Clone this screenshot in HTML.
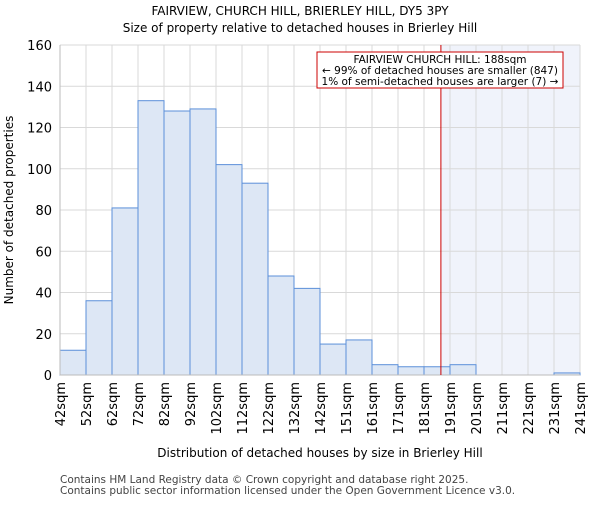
<!DOCTYPE html>
<html><head><meta charset="utf-8"><style>body{margin:0;background:#fff}svg{font-family:"DejaVu Sans","Liberation Sans",sans-serif}</style></head>
<body>
<svg id="c" width="600" height="500" viewBox="0 0 600 500">
<text x="300" y="15" text-anchor="middle" font-size="12">FAIRVIEW, CHURCH HILL, BRIERLEY HILL, DY5 3PY</text>
<text x="300" y="32" text-anchor="middle" font-size="12">Size of property relative to detached houses in Brierley Hill</text>
<g id="grid"></g><g id="bars"></g><g id="axes"></g>
<text transform="translate(13,210) rotate(-90)" text-anchor="middle" font-size="12">Number of detached properties</text>
<text x="320" y="457" text-anchor="middle" font-size="12">Distribution of detached houses by size in Brierley Hill</text>
<text x="60" y="483" font-size="10.5" fill="#444">Contains HM Land Registry data © Crown copyright and database right 2025.</text>
<text x="60" y="494" font-size="10.5" fill="#444">Contains public sector information licensed under the Open Government Licence v3.0.</text>
</svg>
<script>
const labels=["42sqm","52sqm","62sqm","72sqm","82sqm","92sqm","102sqm","112sqm","122sqm","132sqm","142sqm","151sqm","161sqm","171sqm","181sqm","191sqm","201sqm","211sqm","221sqm","231sqm","241sqm"];
const counts=[12,36,81,133,128,129,102,93,48,42,15,17,5,4,4,5,0,0,0,1];
const yTicks=[0,20,40,60,80,100,120,140,160];
const markerBin=14.65;
const NS="http://www.w3.org/2000/svg";
const L=60,R=580,T=45,B=375;
const bw=(R-L)/counts.length;
const x=i=>L+i*bw, y=v=>B-(v/160)*(B-T);
function mk(t,a,p){const e=document.createElementNS(NS,t);for(const k in a)e.setAttribute(k,a[k]);p.appendChild(e);return e;}
const grid=document.getElementById('grid'),bars=document.getElementById('bars'),axes=document.getElementById('axes');
const mx=x(markerBin);
const sh=mk('rect',{x:mx,y:T,width:R-mx,height:B-T,fill:'#f0f3fb'},grid);

for(let i=0;i<=counts.length;i++){const g=mk('line',{x1:x(i),x2:x(i),y1:T,y2:B,stroke:'#d9d9d9'},grid);
}
yTicks.forEach(v=>{const g=mk('line',{x1:L,x2:R,y1:y(v),y2:y(v),stroke:'#d9d9d9'},grid);

const t=mk('text',{x:L-8,y:y(v)+5,'text-anchor':'end','font-size':13},axes);t.textContent=v;
});
counts.forEach((c,i)=>{const r=mk('rect',{x:x(i),y:y(c),width:bw,height:B-y(c),fill:'#dde7f5',stroke:'#5b8fd9','stroke-width':1},bars);
});
labels.forEach((s,i)=>{const t=mk('text',{transform:`translate(${x(i)+5},382) rotate(-90)`,'text-anchor':'end','font-size':13},axes);t.textContent=s;
});
const al=mk('line',{x1:L,x2:L,y1:T,y2:B,stroke:'#bbb'},axes);
const bl=mk('line',{x1:L,x2:R,y1:B,y2:B,stroke:'#bbb'},axes);
const ml=mk('line',{x1:mx,x2:mx,y1:T,y2:B,stroke:'#cc0000','stroke-width':1},axes);
const box=mk('rect',{x:317,y:52,width:246,height:36,fill:'#fff',stroke:'#cc0000'},axes);
["FAIRVIEW CHURCH HILL: 188sqm","← 99% of detached houses are smaller (847)","1% of semi-detached houses are larger (7) →"].forEach((s,k)=>{
const t=mk('text',{x:440,y:63+k*11,'text-anchor':'middle','font-size':10.5},axes);t.textContent=s;
});
</script>
</body></html>
